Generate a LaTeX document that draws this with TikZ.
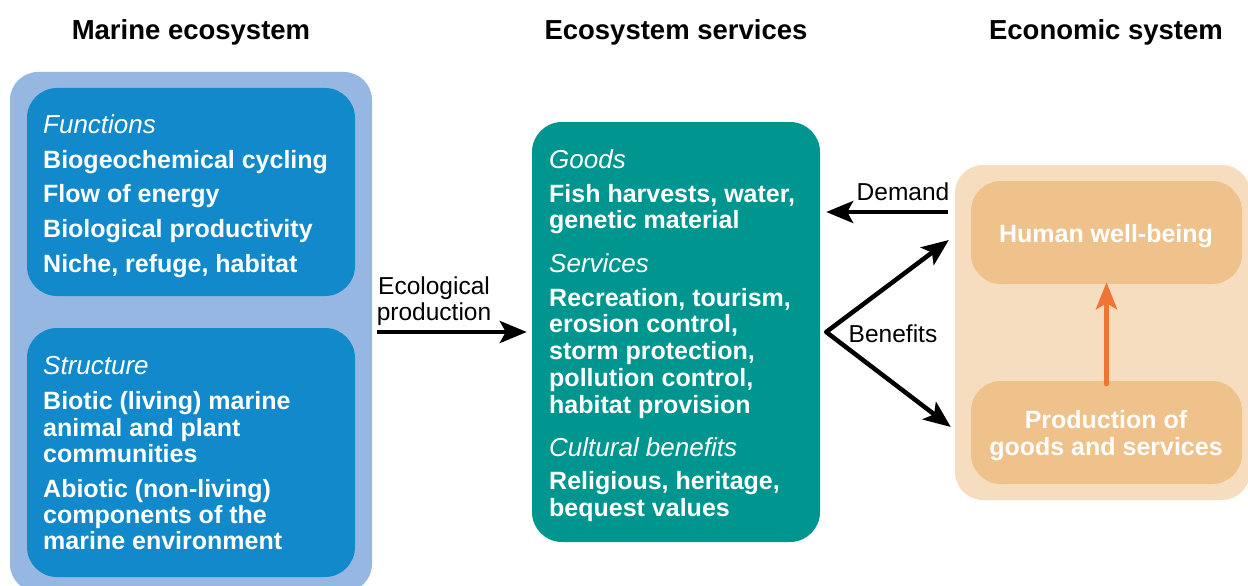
\documentclass[tikz,border=0pt]{standalone}
\usepackage{fontspec}
\setmainfont{Liberation Sans}
\usetikzlibrary{arrows.meta}
\definecolor{outerblue}{HTML}{95B7E2}
\definecolor{innerblue}{HTML}{1289CB}
\definecolor{teal}{HTML}{00968F}
\definecolor{peachouter}{HTML}{F6DDBF}
\definecolor{peachinner}{HTML}{EEC28A}
\definecolor{orangearr}{HTML}{F07434}
\begin{document}
\begin{tikzpicture}[x=1pt,y=-1pt,
  box/.style={rectangle, inner sep=0pt, draw=none},
  body/.style={anchor=base west, inner sep=0pt, text=white, font=\bfseries\fontsize{25}{26.5}\selectfont},
  head/.style={anchor=base west, inner sep=0pt, text=white, font=\itshape\fontsize{26}{26.5}\selectfont},
  title/.style={anchor=base, inner sep=0pt, text=black, font=\bfseries\fontsize{27.5}{30}\selectfont},
  lbl/.style={anchor=base, inner sep=0pt, text=black, font=\fontsize{24.5}{26}\selectfont},
  rtxt/.style={anchor=base, inner sep=0pt, text=white, font=\bfseries\fontsize{25}{27}\selectfont},
  tip/.style={Stealth[length=27pt,width=22pt,inset=6pt]},
  arr/.style={line width=4.5pt, -{Stealth[length=27pt,width=22pt,inset=6pt]}},
  arrb/.style={line width=4.5pt, line join=round, {Stealth[length=27pt,width=22pt,inset=6pt]}-{Stealth[length=27pt,width=22pt,inset=6pt]}},
  oarr/.style={line width=5pt, draw=orangearr, line cap=round, -{Stealth[length=27pt,width=21pt,inset=6pt]}}
]
\useasboundingbox (0,0) rectangle (1248,586);

% titles
\node[title] (t1) at (191,40) {Marine ecosystem};
\node[title] (t2) at (676,40) {Ecosystem services};
\node[title] (t3) at (1106,40) {Economic system};

% left boxes
\node[box, fill=outerblue, rounded corners=28pt, minimum width=362pt, minimum height=520pt] (lout) at (191,332) {};
\node[box, fill=innerblue, rounded corners=30pt, minimum width=328pt, minimum height=208pt] (ltop) at (191,192) {};
\node[box, fill=innerblue, rounded corners=30pt, minimum width=328pt, minimum height=249pt] (lbot) at (191,452.5) {};

\node[head] (fh) at (43,133) {Functions};
\node[body] (f1) at (43,168) {Biogeochemical cycling};
\node[body] (f2) at (43,202) {Flow of energy};
\node[body] (f3) at (43,237) {Biological productivity};
\node[body] (f4) at (43,272) {Niche, refuge, habitat};

\node[head] (sh) at (43,374) {Structure};
\node[body] (s1) at (43,409) {Biotic (living) marine};
\node[body] (s2) at (43,436) {animal and plant};
\node[body] (s3) at (43,462) {communities};
\node[body] (s4) at (43,497) {Abiotic (non-living)};
\node[body] (s5) at (43,523) {components of the};
\node[body] (s6) at (43,549) {marine environment};

% middle box
\node[box, fill=teal, rounded corners=30pt, minimum width=288pt, minimum height=420pt] (mid) at (676,332) {};
\node[head] (gh) at (549,168) {Goods};
\node[body] (g1) at (549,202) {Fish harvests, water,};
\node[body] (g2) at (549,228) {genetic material};
\node[head] (vh) at (549,272) {Services};
\node[body] (v1) at (549,306) {Recreation, tourism,};
\node[body] (v2) at (549,332) {erosion control,};
\node[body] (v3) at (549,359) {storm protection,};
\node[body] (v4) at (549,386) {pollution control,};
\node[body] (v5) at (549,413) {habitat provision};
\node[head] (ch) at (549,456) {Cultural benefits};
\node[body] (c1) at (549,489) {Religious, heritage,};
\node[body] (c2) at (549,516) {bequest values};

% right boxes
\node[box, fill=peachouter, rounded corners=28pt, minimum width=295pt, minimum height=335pt] (rout) at (1102.5,332.5) {};
\node[box, fill=peachinner, rounded corners=30pt, minimum width=271pt, minimum height=103pt] (hum) at (1106.5,232.5) {};
\node[box, fill=peachinner, rounded corners=30pt, minimum width=271pt, minimum height=103pt] (prod) at (1106.5,432.5) {};
\node[rtxt] (humt) at (1106,242) {Human well-being};
\node[rtxt] (prt1) at (1106,428) {Production of};
\node[rtxt] (prt2) at (1106,455) {goods and services};

% connectors
\draw[arr] ([xshift=5pt]lout.east) -- ([xshift=-5pt]mid.west);
\node[lbl] (el1) at (434,294) {Ecological};
\node[lbl] (el2) at (434,320) {production};

\coordinate (demy) at (0,212);
\draw[arr] ([xshift=-7pt]rout.west |- demy) -- ([xshift=6pt]mid.east |- demy);
\node[lbl] (dl) at (903,200) {Demand};

\coordinate (bup) at (0,240);
\coordinate (bdn) at (0,427);
\draw[arrb] ([xshift=-6pt]rout.west |- bup) -- ([xshift=6pt]mid.east) -- ([xshift=-4pt]rout.west |- bdn);
\node[lbl] (bl) at (893,342) {Benefits};

\draw[oarr] ([yshift=-3pt]prod.north) -- ([yshift=2pt]hum.south);
\end{tikzpicture}
\end{document}
